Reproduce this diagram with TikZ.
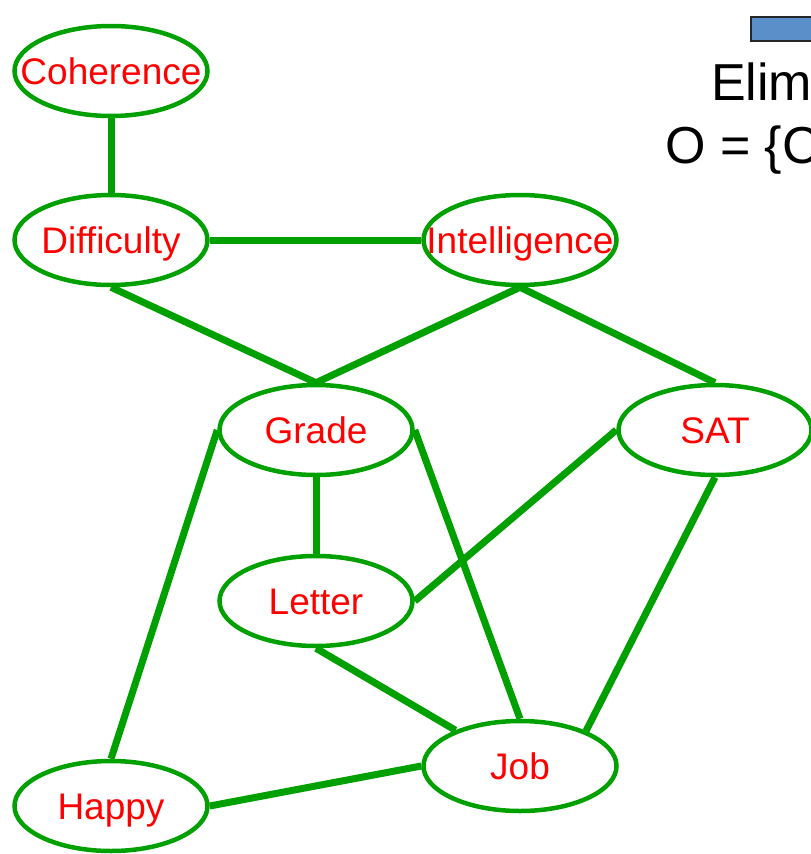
\documentclass[tikz,border=0pt]{standalone}
\usepackage{fontspec}
\setmainfont{Liberation Sans}
\usetikzlibrary{shapes.geometric}
\definecolor{edgegreen}{RGB}{0,160,0}
\definecolor{labelred}{RGB}{255,0,0}
\definecolor{barblue}{RGB}{91,143,201}
\newcommand{\varname}[1]{\makebox[0pt]{#1}}
\begin{document}
\begin{tikzpicture}[x=1pt,y=-1pt,
  var/.style={ellipse,draw=edgegreen,line width=4.5pt,fill=white,
    minimum width=193pt,minimum height=90pt,inner sep=0pt,
    text height=26pt,text depth=0pt,
    text=labelred,font=\fontsize{37}{40}\selectfont},
  link/.style={draw=edgegreen,line width=7pt}]
\useasboundingbox (0,0) rectangle (811,854);
\clip (0,0) rectangle (811,854);

% variables of the network
\node[var] (coh)  at (111,71)  {\varname{Coherence}};
\node[var] (diff) at (111,240) {\varname{Difficulty}};
\node[var] (intl) at (520,240) {\varname{Intelligence}};
\node[var] (grd)  at (316,430) {\varname{Grade}};
\node[var] (sat)  at (715,430) {\varname{SAT}};
\node[var] (let)  at (316,601) {\varname{Letter}};
\node[var] (job)  at (520,766) {\varname{Job}};
\node[var] (hap)  at (111,806) {\varname{Happy}};

% undirected edges between the variables
\path[link] (coh.south) -- (diff.north);
\path[link] (diff.east) -- (intl.west);
\path[link] (diff.south) -- (grd.north);
\path[link] (intl.south) -- (grd.north);
\path[link] (intl.south) -- (sat.north);
\path[link] (grd.south) -- (let.north);
\path[link] (grd.east) -- (job.north);
\path[link] (sat.west) -- (let.east);
\path[link] (sat.south) -- (job.28);
\path[link] (let.south) -- (job.151);
\path[link] (hap.north) -- (grd.west);
\path[link] (hap.east) -- (job.west);

% header on the right
\node[draw=black!85,line width=1.5pt,fill=barblue,minimum width=80pt,
  minimum height=24pt,inner sep=0pt,anchor=north west] (bar) at (750,16) {};
\node[anchor=base west,inner sep=0pt,font=\fontsize{52}{56}\selectfont] (elim) at (711,100) {Elim};
\node[anchor=base west,inner sep=0pt,font=\fontsize{52}{56}\selectfont] (oset) at (665,163) {O = \{C};
\end{tikzpicture}
\end{document}
